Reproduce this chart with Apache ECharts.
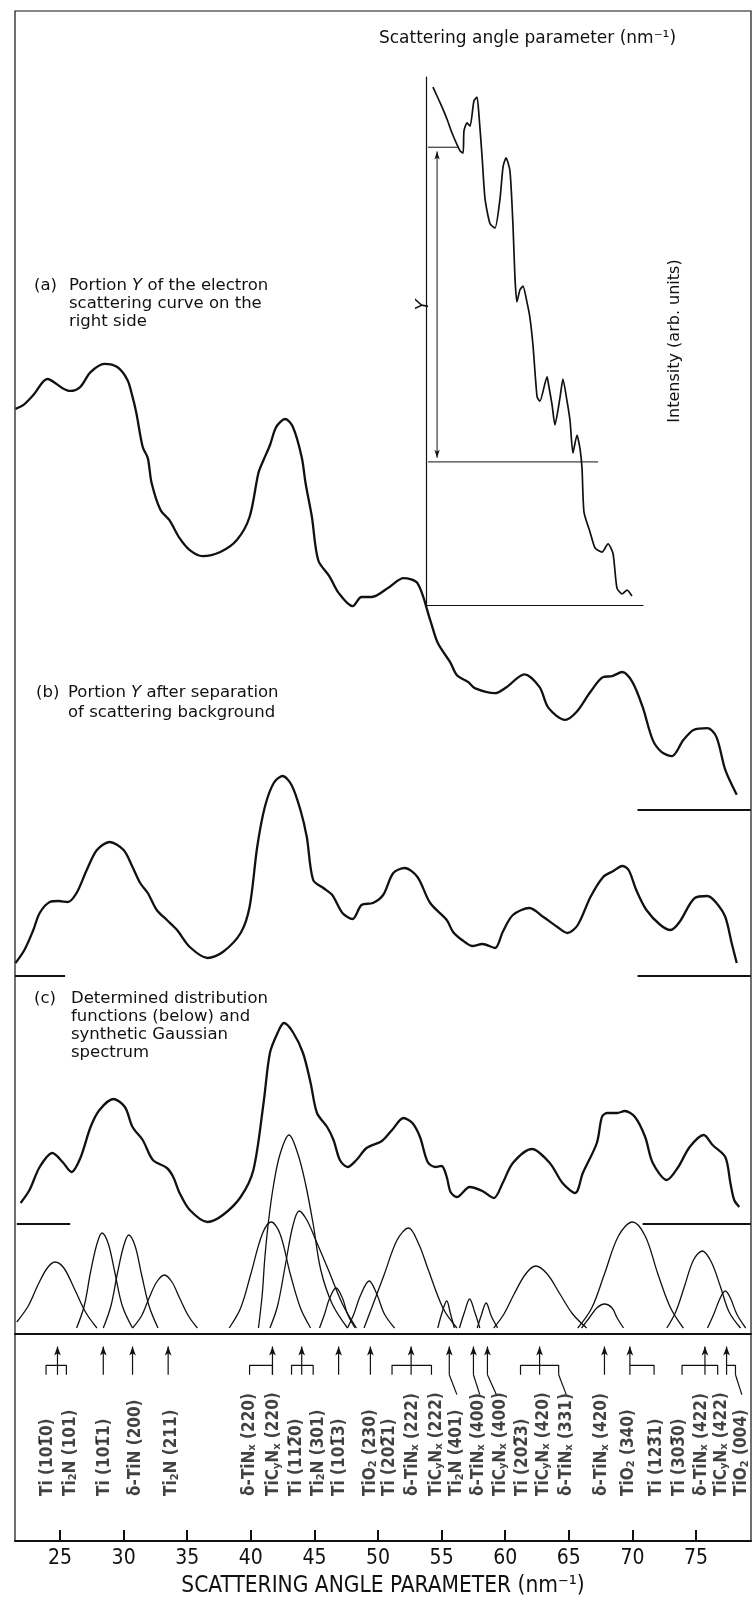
<!DOCTYPE html>
<html><head><meta charset="utf-8">
<script src="https://cdn.jsdelivr.net/npm/echarts@6/dist/echarts.min.js"></script>
<style>html,body{margin:0;padding:0;background:#fff}#c{width:754px;height:1603px}</style>
</head><body><div id="c"></div>
<script>
// ---------------- DATA ----------------
const tickValues = [25, 30, 35, 40, 45, 50, 55, 60, 65, 70, 75];

// (a) portion Y of electron scattering curve
const curveA = [[21.5,87.2],[22.1,88.0],[22.9,90.2],[24.0,93.7],[25.2,91.7],[25.8,91.1],[26.6,92.0],[27.4,95.2],[28.5,97.0],[29.5,96.3],[30.3,93.5],[30.7,89.8],[31.0,86.3],[31.5,78.9],[31.9,76.5],[32.2,71.1],[32.9,65.2],[33.6,63.0],[34.4,59.1],[35.2,56.5],[36.2,55.2],[37.6,56.1],[38.9,58.7],[39.9,63.7],[40.6,73.3],[41.0,76.1],[41.5,79.3],[42.0,83.3],[42.7,85.0],[43.3,83.3],[44.0,76.7],[44.3,71.1],[44.8,63.7],[45.3,54.3],[46.2,50.7],[46.9,47.2],[48.0,44.3],[48.7,46.3],[49.5,46.3],[50.9,48.5],[52.0,50.4],[53.1,49.3],[54.1,41.3],[54.7,36.3],[55.7,32.0],[56.2,29.3],[57.1,27.8],[57.6,26.5],[59.2,25.4],[60.1,26.7],[61.5,29.5],[62.7,26.7],[63.4,22.2],[64.7,19.6],[65.6,21.3],[66.7,25.7],[67.7,28.9],[68.4,29.1],[69.2,30.0],[70.0,27.8],[70.8,22.4],[71.6,15.2],[72.3,12.6],[73.1,11.7],[74.0,15.2],[74.8,17.4],[75.9,17.8],[76.6,15.9],[77.3,8.7],[78.2,3.3]];

// (b) after separation of background
const curveB = [[21.5,6.5],[22.2,13],[22.9,23],[23.4,31.5],[24.2,37],[24.9,37.5],[25.6,37],[26.3,41.5],[27.1,53],[27.9,63],[28.9,67],[30.0,63],[30.7,54.5],[31.3,46.5],[31.9,41.5],[32.6,33],[33.4,28],[34.2,23],[35.2,14.5],[36.6,9],[37.8,12],[39.2,21.5],[39.9,34.5],[40.5,64.5],[41.1,84.5],[41.8,96.5],[42.5,100],[43.2,95.5],[43.9,83],[44.4,69.5],[44.9,48],[45.7,44],[46.4,40.5],[47.2,31.5],[48.0,28.5],[48.7,35.5],[49.6,36.5],[50.4,40.5],[51.2,51.5],[52.1,54],[53.1,49.5],[54.1,36.5],[55.4,28],[55.9,22],[56.6,18],[57.4,15],[58.2,16],[59.2,14],[59.8,22],[60.6,30.5],[61.9,34],[63.0,29.5],[64.1,24.5],[64.9,21.5],[65.7,25.5],[66.7,39.5],[67.7,49.5],[68.5,52.5],[69.2,55],[69.7,53],[70.3,43],[71.1,33],[72.2,25.5],[73.0,23],[73.7,27],[74.9,39],[75.9,40],[76.6,36.5],[77.3,29.5],[77.8,16.5],[78.2,6.5]];

// (c) synthetic Gaussian spectrum
const curveC = [[21.9,10.5],[22.6,17],[23.4,28.5],[24.4,35.5],[25.2,31],[25.9,26],[26.6,33],[27.4,48.5],[28.1,57],[29.2,62.5],[30.1,58.5],[30.7,48.5],[31.5,42],[32.3,32],[33.4,28],[33.9,23.5],[34.4,15.5],[35.2,7],[36.6,1],[37.8,4.5],[39.2,13.5],[40.2,27],[41.0,60.5],[41.5,85.5],[42.1,95.5],[42.6,100.5],[43.3,96],[44.1,85.5],[44.7,70.5],[45.2,55.5],[46.0,48.5],[46.5,42],[47.0,32],[47.6,28.5],[48.3,32],[49.1,38],[50.3,41.5],[51.1,47],[52.0,53],[52.7,50.5],[53.3,43.5],[53.9,31],[54.5,28.5],[55.0,29],[55.4,23.5],[55.7,16],[56.2,13.5],[57.2,18.5],[58.2,16.5],[59.1,13],[59.8,20.5],[60.6,30.5],[62.1,37.5],[63.5,30.5],[64.5,20.5],[65.5,15.5],[66.1,25.5],[67.2,40.5],[67.6,53.5],[68.0,55.5],[68.8,55.5],[69.4,56.5],[70.2,53.5],[71.0,43.5],[71.6,30.5],[72.7,22],[73.6,28.5],[74.5,38.5],[75.6,44.5],[76.3,39.5],[77.3,33.5],[77.7,20.5],[78.0,12],[78.4,8.5]];

// determined distribution functions (components)
const comp01 = [[21.6,6],[22.5,14],[23.3,25],[24.0,33],[24.6,36],[25.3,33],[26.1,23],[27.0,11],[27.9,3]];
const comp02 = [[26.3,3],[26.9,14],[27.4,31],[27.9,45],[28.3,50.5],[28.8,45],[29.3,31],[29.9,14],[30.7,3]];
const comp03 = [[28.4,3],[29.0,14],[29.5,30],[30.0,44],[30.4,49.5],[30.9,44],[31.4,30],[32.0,14],[32.7,3]];
const comp04 = [[30.7,3],[31.4,9],[32.0,18],[32.6,26],[33.2,29.5],[33.8,26],[34.4,18],[35.1,9],[35.8,3]];
const comp05 = [[38.3,3],[39.2,13],[40.0,30],[40.9,50],[41.6,56],[42.3,50],[43.1,30],[43.9,13],[44.7,3]];
const comp06 = [[40.6,3],[40.9,20],[41.1,38],[41.4,57],[41.8,75],[42.3,90],[43.0,99.5],[43.7,90],[44.3,75],[44.9,55],[45.5,32],[46.4,15],[47.6,3]];
const comp07 = [[41.5,3],[42.1,14],[42.7,34],[43.3,54],[43.8,61.5],[44.4,57],[45.1,47],[46.1,32],[47.2,15],[48.3,3]];
const comp08 = [[45.4,3],[45.8,10],[46.2,18],[46.7,23],[47.2,18],[47.6,10],[48.2,3]];
const comp09 = [[47.6,3],[48.1,10],[48.6,19],[49.3,26.5],[49.9,20],[50.5,10],[51.3,3]];
const comp10 = [[48.9,3],[49.5,13],[50.5,30],[51.5,47],[52.4,53],[53.2,45],[53.9,33],[55.1,13],[56.2,3]];
const comp11 = [[54.7,3],[55.0,10],[55.4,16.5],[55.7,10],[56.0,3]];
const comp12 = [[56.4,3],[56.8,11],[57.2,17.5],[57.6,11],[58.0,3]];
const comp13 = [[57.8,3],[58.1,9],[58.5,15.5],[58.9,9],[59.4,3]];
const comp14 = [[59.1,3],[59.9,10],[60.7,20],[61.6,30],[62.4,34],[63.3,30],[64.3,20],[65.3,10],[66.4,3]];
const comp15 = [[66.0,3],[66.6,8],[67.2,13],[67.8,15],[68.4,13],[68.8,8],[69.3,3]];
const comp16 = [[65.7,3],[66.8,13],[67.8,30],[68.9,49],[70.0,56],[71.0,49],[72.0,30],[73.0,13],[74.0,3]];
const comp17 = [[72.7,3],[73.4,11],[74.1,24],[74.8,37],[75.5,41.5],[76.2,36],[76.9,24],[77.6,11],[78.5,3]];
const comp18 = [[75.9,3],[76.4,10],[76.9,18],[77.3,21.5],[77.7,18],[78.2,10],[78.9,3]];

// zero-level reference marks (x spans)
const baseMarksA = [[70.4, 79.3]];
const baseMarksB = [[21.46, 25.4], [70.4, 79.3]];
const baseMarksC = [[21.6, 25.8], [70.8, 79.3]];

// reflection assignments
const labelNames = [
  'Ti (101\u03050)', 'Ti{s|2}N (101)', 'Ti (101\u03051)', '\u03b4-TiN (200)', 'Ti{s|2}N (211)',
  '\u03b4-TiN{s|x} (220)', 'TiC{s|y}N{s|x} (220)', 'Ti (112\u03050)', 'Ti{s|2}N (301)', 'Ti (101\u03053)',
  'TiO{s|2} (230)', 'Ti (202\u03051)', '\u03b4-TiN{s|x} (222)', 'TiC{s|y}N{s|x} (222)', 'Ti{s|2}N (401)',
  '\u03b4-TiN{s|x} (400)', 'TiC{s|y}N{s|x} (400)', 'Ti (202\u03053)', 'TiC{s|y}N{s|x} (420)', '\u03b4-TiN{s|x} (331)',
  '\u03b4-TiN{s|x} (420)', 'TiO{s|2} (340)', 'Ti (123\u03051)', 'Ti (303\u03050)', '\u03b4-TiN{s|x} (422)',
  'TiC{s|y}N{s|x} (422)', 'TiO{s|2} (004)'
];
const labelX = [24.0, 25.8, 28.5, 30.9, 33.8, 39.9, 41.8, 43.6, 45.3, 47.0, 49.4, 50.9, 52.7, 54.6, 56.2, 57.9, 59.6, 61.4, 63.0, 64.8, 67.6, 69.7, 71.9, 73.7, 75.4, 77.0, 78.6];
const peakArrowX = [24.8, 28.4, 30.7, 33.5, 41.7, 44.0, 46.9, 49.4, 52.6, 55.6, 57.5, 58.6, 62.7, 67.8, 69.8, 75.7, 77.4];
const bracketSpans = [[23.9,25.5],[39.9,41.7],[43.2,44.9],[51.1,54.2],[61.2,64.2],[69.8,71.7],[73.9,76.7],[77.4,78.1]];
const leaderLines = [[55.6,56.2],[57.5,58.0],[58.6,59.3],[64.2,64.8],[78.1,78.6]];

// inset: original scattering curve (arb. units)
const insetCurve = [[3.2,98.1],[7.4,94.3],[9.7,92.0],[12.0,89.4],[15.7,86.0],[17.1,85.6],[17.5,89.8],[18.9,91.3],[20.3,90.7],[22.1,95.5],[23.5,96.2],[24.4,92.8],[25.8,85.2],[27.2,76.9],[29.5,72.2],[31.8,71.4],[34.1,76.9],[35.5,83.0],[36.9,84.7],[38.7,82.2],[40.1,71.8],[41.0,61.9],[41.9,57.4],[43.3,59.7],[44.7,60.4],[46.5,57.4],[47.9,54.4],[49.3,49.2],[51.2,39.4],[52.5,38.6],[55.8,43.2],[56.2,42.4],[58.1,37.9],[59.4,34.1],[61.8,39.4],[63.1,42.8],[65.0,38.6],[66.4,34.8],[67.7,28.8],[69.6,32.2],[71.0,29.5],[71.9,25.9],[72.8,17.6],[75.6,13.8],[77.9,10.8],[81.1,10.0],[83.9,11.6],[86.2,9.7],[88.0,3.2],[90.3,2.1],[92.6,2.8],[94.9,1.7]];
const insetYLimits = [86.7, 27.1];      // levels bounding portion Y
const insetYLimitEnds = [14.7, 79.3];   // where the limit lines meet the curve side

// ---------------- LAYOUT / STYLE ----------------
const X_MIN = 21.46, X_MAX = 79.32;
const INK = '#111';
const NARROW = "'Liberation Sans Narrow','DejaVu Sans Condensed','Roboto Condensed','Arial Narrow',sans-serif";
const ROUND = "'DejaVu Sans','Noto Sans',sans-serif";
const TIP = 6, BAR = 15, FOOT = 19.5, CONN = 29, LABEL_BASE = 77.5;
const INSET_Y_X = 5.1, INSET_TICK_X0 = 0.9;

const chart = echarts.init(document.getElementById('c'), null, {renderer: 'canvas'});

const grids = [
  {left: 15, right: 3, top: 11, bottom: 60, show: true, borderColor: INK, borderWidth: 1.2, backgroundColor: 'transparent'},
  {left: 15, right: 3, top: 350, height: 460},
  {left: 15, right: 3, top: 756, height: 220},
  {left: 15, right: 3, top: 1004, height: 220},
  {left: 15, right: 3, top: 1114, height: 220},
  {left: 15, right: 3, top: 1334, height: 209},
  {left: 426, width: 217, top: 77, height: 528}
];

const hiddenX = i => ({gridIndex: i, type: 'value', min: X_MIN, max: X_MAX, show: false});
const xAxes = [
  {gridIndex: 0, type: 'value', min: X_MIN, max: X_MAX, position: 'bottom',
   axisLine: {show: true, lineStyle: {color: INK, width: 2}},
   axisTick: {show: true, inside: true, length: 11, lineStyle: {color: INK, width: 2}, customValues: tickValues},
   axisLabel: {show: true, customValues: tickValues, color: INK, fontSize: 21, fontFamily: NARROW, margin: 7},
   splitLine: {show: false},
   name: 'SCATTERING ANGLE PARAMETER (nm\u207B\u00B9)', nameLocation: 'middle', nameGap: 34,
   nameTextStyle: {color: INK, fontSize: 22.5, fontFamily: NARROW}},
  hiddenX(1), hiddenX(2), hiddenX(3),
  {gridIndex: 4, type: 'value', min: X_MIN, max: X_MAX, show: true,
   axisLine: {show: true, lineStyle: {color: INK, width: 2}}, axisTick: {show: false}, axisLabel: {show: false}, splitLine: {show: false}},
  hiddenX(5),
  {gridIndex: 6, type: 'value', min: 0, max: 100, position: 'top',
   axisLine: {show: true, lineStyle: {color: INK, width: 1.2}}, axisTick: {show: false}, axisLabel: {show: false}, splitLine: {show: false},
   name: 'Scattering angle parameter (nm\u207B\u00B9)', nameLocation: 'middle', nameGap: 30,
   nameTextStyle: {color: INK, fontSize: 17, fontFamily: ROUND, padding: [0, 14, 0, 0]}}
];
const hiddenY = (i, max, inv) => ({gridIndex: i, type: 'value', min: 0, max: max, show: false, inverse: !!inv});
const yAxes = [
  hiddenY(0, 1), hiddenY(1, 100), hiddenY(2, 110), hiddenY(3, 110), hiddenY(4, 110), hiddenY(5, 100, true),
  {gridIndex: 6, type: 'value', min: 0, max: 100, position: 'right',
   axisLine: {show: true, lineStyle: {color: INK, width: 1.2}}, axisTick: {show: false}, axisLabel: {show: false}, splitLine: {show: false},
   name: 'Intensity (arb. units)', nameLocation: 'middle', nameRotate: 90, nameGap: 24,
   nameTextStyle: {color: INK, fontSize: 16, fontFamily: ROUND}}
];

const series = [];
function line(data, gi, width, smooth, extra) {
  series.push(Object.assign({type: 'line', xAxisIndex: gi, yAxisIndex: gi, data: data, smooth: smooth || false,
    symbol: 'none', showSymbol: false, silent: true, animation: false,
    lineStyle: {color: INK, width: width}, itemStyle: {color: INK}}, extra || {}));
}

line(curveA, 1, 2.3, 0.3);
line(curveB, 2, 2.3, 0.3);
line(curveC, 3, 2.3, 0.3);
baseMarksA.forEach(s => line([[s[0], 0], [s[1], 0]], 1, 1.8));
baseMarksB.forEach(s => line([[s[0], 0], [s[1], 0]], 2, 1.8));
baseMarksC.forEach(s => line([[s[0], 0], [s[1], 0]], 3, 1.8));
[comp01, comp02, comp03, comp04, comp05, comp06, comp07, comp08, comp09, comp10, comp11, comp12, comp13, comp14, comp15, comp16, comp17, comp18]
  .forEach(c => line(c, 4, 1.3, 0.35));

// arrows in the assignment area
peakArrowX.forEach(x => line([{value: [x, TIP], symbol: 'arrow', symbolSize: [5, 9]}, {value: [x, FOOT], symbol: 'none'}], 5, 1.2, false, {showSymbol: true}));
bracketSpans.forEach(s => {
  const startsAtArrow = peakArrowX.indexOf(s[0]) >= 0;
  const pts = startsAtArrow ? [[s[0], BAR], [s[1], BAR], [s[1], FOOT]] : [[s[0], FOOT], [s[0], BAR], [s[1], BAR], [s[1], FOOT]];
  line(pts, 5, 1.2);
});
leaderLines.forEach(s => line([[s[0], FOOT], [s[1], CONN]], 5, 1.2));

// assignment labels
series.push({type: 'scatter', xAxisIndex: 5, yAxisIndex: 5, silent: true, animation: false, symbolSize: 1,
  itemStyle: {color: 'rgba(0,0,0,0)'},
  data: labelX.map((x, i) => ({value: [x, LABEL_BASE], name: labelNames[i]})),
  label: {show: true, position: 'inside', formatter: p => p.name, rotate: 90, align: 'left', verticalAlign: 'middle',
    color: INK, fontSize: 17, fontWeight: 'bold', fontFamily: NARROW,
    rich: {s: {fontSize: 11, fontWeight: 'bold', fontFamily: NARROW, color: INK, verticalAlign: 'bottom'}}}
});

// inset
line(insetCurve, 6, 1.7, 0.2);
line([{value: [INSET_Y_X, insetYLimits[0] - 0.8], symbol: 'arrow', symbolSize: [4, 8]},
      {value: [INSET_Y_X, insetYLimits[1] + 0.8], symbol: 'arrow', symbolSize: [4, 8], symbolRotate: 180}], 6, 1, false, {showSymbol: true});
insetYLimits.forEach((y, i) => line([[INSET_TICK_X0, y], [insetYLimitEnds[i], y]], 6, 1));

const capStyle = {fill: INK, fontSize: 16.5, fontFamily: ROUND, lineHeight: 18,
  rich: {i: {fontStyle: 'italic', fontSize: 16.5, fontFamily: ROUND, fill: INK}}};
const graphic = [
  {type: 'text', left: 34, top: 277, silent: true, style: Object.assign({}, capStyle, {text: '(a)'})},
  {type: 'text', left: 69, top: 277, silent: true, style: Object.assign({}, capStyle, {text: 'Portion {i|Y} of the electron\nscattering curve on the\nright side'})},
  {type: 'text', left: 36, top: 683, silent: true, style: Object.assign({}, capStyle, {text: '(b)', lineHeight: 20})},
  {type: 'text', left: 68, top: 683, silent: true, style: Object.assign({}, capStyle, {text: 'Portion {i|Y} after separation\nof scattering background', lineHeight: 20})},
  {type: 'text', left: 34, top: 990, silent: true, style: Object.assign({}, capStyle, {text: '(c)'})},
  {type: 'text', left: 71, top: 990, silent: true, style: Object.assign({}, capStyle, {text: 'Determined distribution\nfunctions (below) and\nsynthetic Gaussian\nspectrum'})},
  {type: 'text', x: 423, y: 305, rotation: Math.PI / 2, silent: true,
   style: {text: 'Y', fill: INK, fontSize: 18, fontStyle: 'italic', fontFamily: ROUND, align: 'center', verticalAlign: 'middle'}}
];

chart.setOption({
  animation: false,
  backgroundColor: '#fff',
  grid: grids, xAxis: xAxes, yAxis: yAxes, series: series, graphic: graphic
});
</script></body></html>
